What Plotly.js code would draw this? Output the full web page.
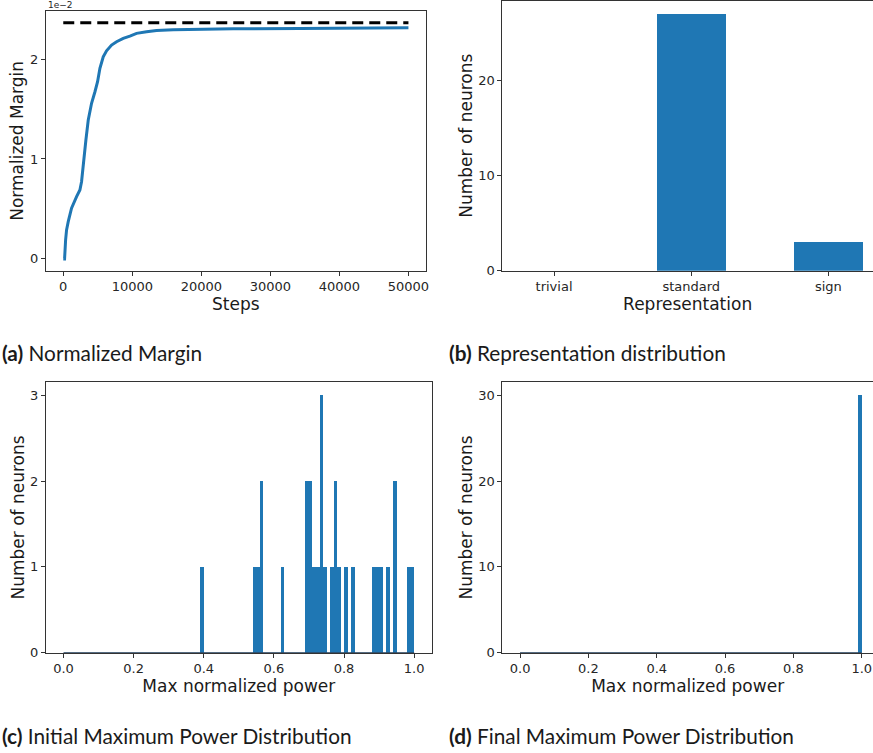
<!DOCTYPE html>
<html>
<head>
<meta charset="utf-8">
<script src="https://cdn.plot.ly/plotly-3.0.1.min.js"></script>
<style>
  html, body { margin: 0; padding: 0; background: #fff; }
  #fig { width: 873px; height: 753px; }
</style>
</head>
<body>
<div id="fig"></div>
<script>
// ---- (a) normalized margin during training (values in units of 1e-2) ----
const steps = [0, 190, 340, 480, 720, 1200, 1930, 2410, 2650, 2900, 3280, 3620, 4100, 4590,
  4970, 5310, 5790, 6270, 7000, 7720, 8690, 9650, 10620, 12070, 13510, 15930, 19790, 24610,
  34270, 43920, 50000];
const margin = [0, 0, 0.19, 0.29, 0.373, 0.507, 0.623, 0.69, 0.773, 0.957, 1.19, 1.39, 1.557,
  1.673, 1.773, 1.907, 2.023, 2.083, 2.14, 2.173, 2.207, 2.23, 2.257, 2.273, 2.287, 2.293,
  2.30, 2.303, 2.307, 2.31, 2.313];
const maxMarginSteps = [0, 50000];
const maxMargin = [2.363, 2.363];

// ---- (b) representation counts ----
const representations = ['trivial', 'standard', 'sign'];
const repCounts = [0, 27, 3];

// ---- (c) initial max normalized power: histogram bins (left edge, count), bin width 0.01 ----
const binWidth = 0.01;
const initialBinLeft = [0.39, 0.54, 0.55, 0.56, 0.62, 0.69, 0.70, 0.71, 0.72, 0.73, 0.74,
  0.76, 0.77, 0.78, 0.80, 0.82, 0.88, 0.89, 0.90, 0.92, 0.94, 0.98, 0.99];
const initialCounts = [1, 1, 1, 2, 1, 2, 2, 1, 1, 3, 1, 1, 2, 1, 1, 1, 1, 1, 1, 1, 2, 1, 1];

// ---- (d) final max normalized power ----
const finalBinLeft = [0.99];
const finalCounts = [30];
const histRange = [0, 1];

// ---- styling ----
const W = 873, H = 753;
const BLUE = '#1f77b4';
const SPINE = '#333333';
const TICKFONT = { family: 'DejaVu Sans', size: 13, color: '#262626' };
const TITLEFONT = { family: 'DejaVu Sans', size: 17, color: '#1a1a1a' };

const px = (l, r) => [l / W, r / W];
const py = (t, b) => [1 - b / H, 1 - t / H];

function axisBase(extra) {
  return Object.assign({
    showline: true, linecolor: SPINE, linewidth: 1,
    ticks: 'outside', ticklen: 4, tickwidth: 1, tickcolor: SPINE,
    showgrid: false, zeroline: false, tickfont: TICKFONT,
    layer: 'below traces', fixedrange: true
  }, extra);
}

const centers = (lefts) => lefts.map(v => v + binWidth / 2);

const traces = [
  // (a)
  { x: steps, y: margin, type: 'scatter', mode: 'lines', xaxis: 'x', yaxis: 'y',
    line: { color: BLUE, width: 3 }, hoverinfo: 'skip' },
  { x: maxMarginSteps, y: maxMargin, type: 'scatter', mode: 'lines', xaxis: 'x', yaxis: 'y',
    line: { color: '#000', width: 3, dash: '11px,6px' }, hoverinfo: 'skip' },
  // (b)
  { x: representations, y: repCounts, type: 'bar', width: 0.5, xaxis: 'x2', yaxis: 'y2',
    marker: { color: BLUE, line: { width: 0 } }, hoverinfo: 'skip' },
  // zero-height bars show as a thin dark edge on the baseline
  ...representations.map((c, i) => repCounts[i] === 0 ? {
    x: [i - 0.25, i + 0.25], y: [0, 0], type: 'scatter', mode: 'lines', xaxis: 'x2', yaxis: 'y2',
    line: { color: '#1c3a57', width: 1.5 }, cliponaxis: false, hoverinfo: 'skip' } : null
  ).filter(Boolean),
  // (c)
  { x: histRange, y: [0, 0], type: 'scatter', mode: 'lines', xaxis: 'x3', yaxis: 'y3',
    line: { color: '#1c3a57', width: 1.5 }, cliponaxis: false, hoverinfo: 'skip' },
  { x: centers(initialBinLeft), y: initialCounts, type: 'bar', width: binWidth,
    xaxis: 'x3', yaxis: 'y3', marker: { color: BLUE, line: { width: 0 } }, hoverinfo: 'skip' },
  // (d)
  { x: histRange, y: [0, 0], type: 'scatter', mode: 'lines', xaxis: 'x4', yaxis: 'y4',
    line: { color: '#1c3a57', width: 1.5 }, cliponaxis: false, hoverinfo: 'skip' },
  { x: centers(finalBinLeft), y: finalCounts, type: 'bar', width: binWidth,
    xaxis: 'x4', yaxis: 'y4', marker: { color: BLUE, line: { width: 0 } }, hoverinfo: 'skip' }
];

const captionFont = { family: 'Lato', size: 20.8, color: '#1a1a1a' };
function caption(text, xpx, ypx) {
  return { text, x: xpx / W, y: 1 - ypx / H, xref: 'paper', yref: 'paper',
    xanchor: 'left', yanchor: 'middle', showarrow: false, font: captionFont };
}

const layout = {
  width: W, height: H,
  margin: { l: 0, r: 0, t: 0, b: 0 },
  paper_bgcolor: '#fff', plot_bgcolor: '#fff',
  showlegend: false, bargap: 0,
  font: { family: 'DejaVu Sans' },

  xaxis: axisBase({ domain: px(46, 425.7), anchor: 'y', range: [-2500, 52500],
    tickvals: [0, 10000, 20000, 30000, 40000, 50000], tickformat: 'd', mirror: true,
    title: { text: 'Steps', font: TITLEFONT, standoff: 3 } }),
  yaxis: axisBase({ domain: py(11, 270.7), anchor: 'x', range: [-0.118, 2.481],
    tickvals: [0, 1, 2], mirror: true,
    title: { text: 'Normalized Margin', font: TITLEFONT, standoff: 2 } }),

  xaxis2: axisBase({ domain: px(502.3, 873), anchor: 'y2', type: 'category',
    range: [-0.377, 2.325], mirror: true,
    title: { text: 'Representation', font: TITLEFONT, standoff: 3 } }),
  yaxis2: axisBase({ domain: py(0.7, 270.7), anchor: 'x2', range: [0, 28.35],
    tickvals: [0, 10, 20], mirror: false,
    title: { text: 'Number of neurons', font: TITLEFONT, standoff: 1 } }),

  xaxis3: axisBase({ domain: px(46, 431.7), anchor: 'y3', range: [-0.05, 1.05],
    tickvals: [0, 0.2, 0.4, 0.6, 0.8, 1.0], tickformat: '.1f', mirror: true,
    title: { text: 'Max normalized power', font: TITLEFONT, standoff: 3 } }),
  yaxis3: axisBase({ domain: py(382.3, 652.7), anchor: 'x3', range: [0, 3.15],
    tickvals: [0, 1, 2, 3], mirror: true,
    title: { text: 'Number of neurons', font: TITLEFONT, standoff: 1 } }),

  xaxis4: axisBase({ domain: px(502.3, 873), anchor: 'y4', range: [-0.052, 1.033],
    tickvals: [0, 0.2, 0.4, 0.6, 0.8, 1.0], tickformat: '.1f', mirror: true,
    title: { text: 'Max normalized power', font: TITLEFONT, standoff: 3 } }),
  yaxis4: axisBase({ domain: py(382.3, 652.7), anchor: 'x4', range: [0, 31.5],
    tickvals: [0, 10, 20, 30], mirror: false,
    title: { text: 'Number of neurons', font: TITLEFONT, standoff: 1 } }),

  annotations: [
    { text: '1e\u22122', x: 46 / W, y: 1 - 5 / H, xref: 'paper', yref: 'paper',
      xanchor: 'left', yanchor: 'middle', showarrow: false,
      font: { family: 'DejaVu Sans', size: 9, color: '#262626' } },
    caption('<b>(a)</b> Normalized Margin', 0, 352),
    caption('<b>(b)</b> Representation distribution', 447, 352),
    caption('<b>(c)</b> Initial Maximum Power Distribution', 0, 735),
    caption('<b>(d)</b> Final Maximum Power Distribution', 447, 735)
  ]
};

Plotly.newPlot('fig', traces, layout, { staticPlot: true, displayModeBar: false });
</script>
</body>
</html>
